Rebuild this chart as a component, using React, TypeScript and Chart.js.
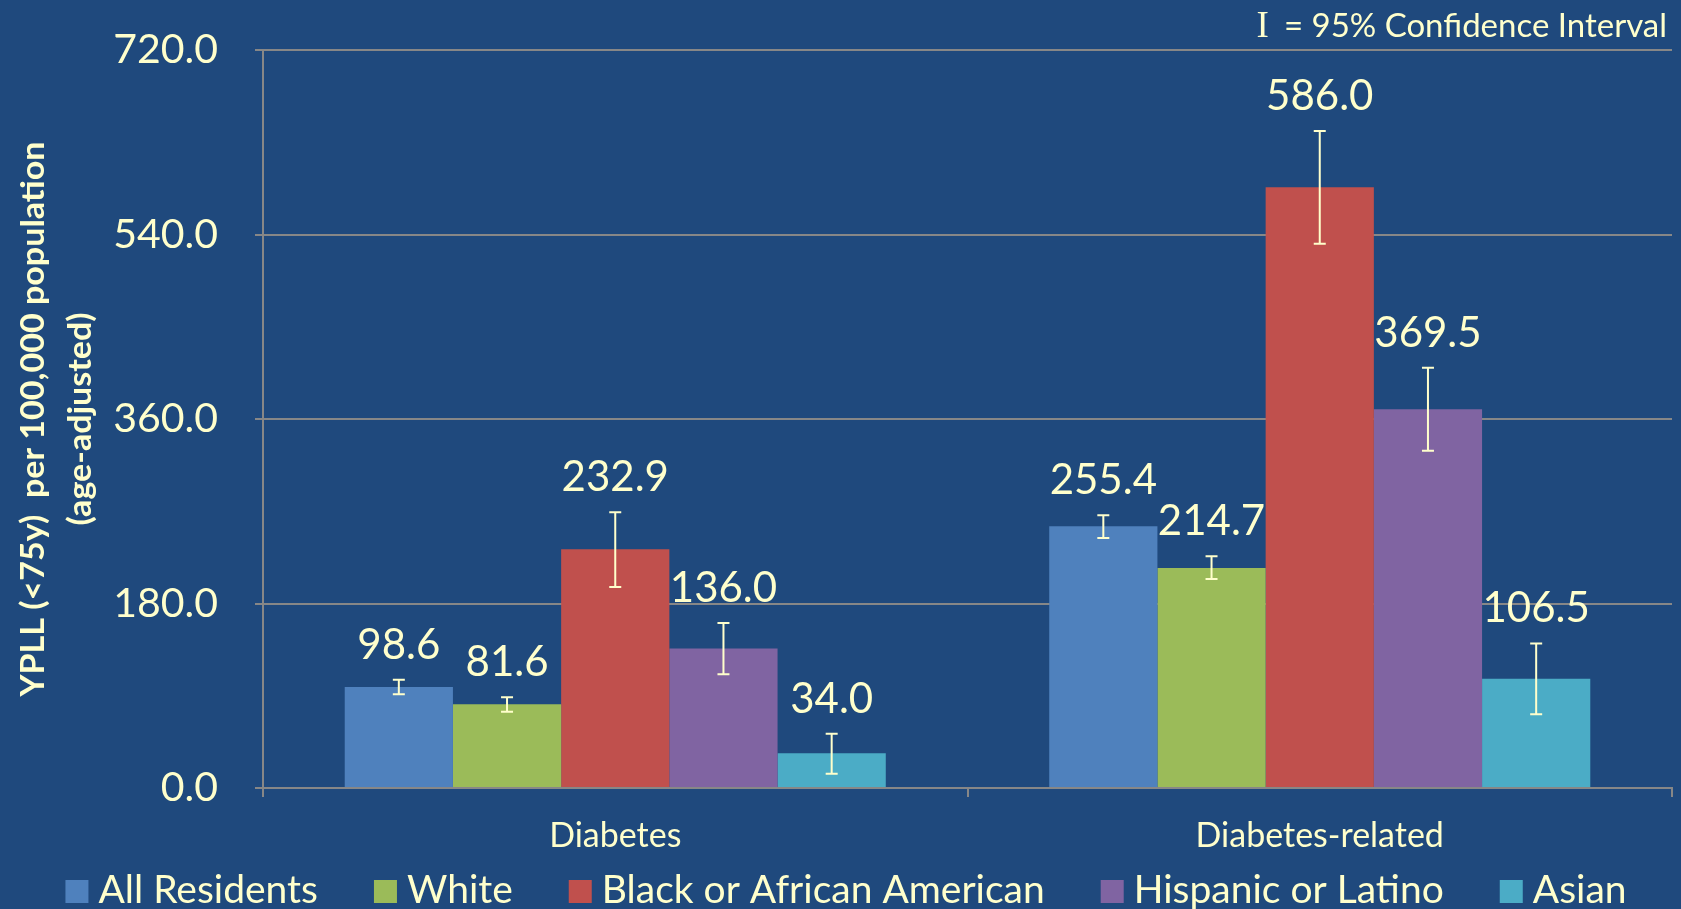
import React, { useEffect, useRef } from "react";
import { Chart, registerables } from "chart.js";

Chart.register(...registerables);

// ---------- data ----------
const categories = ["Diabetes", "Diabetes-related"];
const seriesNames = ["All Residents", "White", "Black or African American", "Hispanic or Latino", "Asian"];
const allResidents = [98.6, 255.4];
const white = [81.6, 214.7];
const black = [232.9, 586.0];
const hispanic = [136.0, 369.5];
const asian = [34.0, 106.5];
// 95% confidence intervals [low, high]
const allResidentsCI = [[91.5, 105.5], [244.0, 266.0]];
const whiteCI = [[74.5, 88.5], [204.0, 226.0]];
const blackCI = [[196.0, 269.0], [531.0, 641.0]];
const hispanicCI = [[111.0, 161.0], [329.0, 410.0]];
const asianCI = [[14.0, 53.0], [72.0, 141.0]];
const yTicks = [0, 180, 360, 540, 720];
const yTitleLines = ["YPLL (<75y)  per 100,000 population", "(age-adjusted)"];
const ciNote = "= 95% Confidence Interval";

// ---------- styles ----------
const BG = "#1F497D";
const TEXT = "#FFFFCC";
const GRID = "#878787";
const COLORS = ["#4F81BD", "#9BBB59", "#C0504D", "#8064A2", "#4BACC6"];
const FONT = "Lato";

const bgPlugin = {
  id: "bg",
  beforeDraw(chart: any) {
    const ctx = chart.ctx;
    ctx.save();
    ctx.fillStyle = BG;
    ctx.fillRect(0, 0, chart.width, chart.height);
    ctx.restore();
  },
};

const errorLabelPlugin = {
  id: "errorLabels",
  afterDatasetsDraw(chart: any) {
    const ctx = chart.ctx;
    const y = chart.scales.y;
    chart.data.datasets.forEach((ds: any, i: number) => {
      const meta = chart.getDatasetMeta(i);
      meta.data.forEach((bar: any, j: number) => {
        const [lo, hi] = ds.ci[j];
        const x = bar.x;
        const yl = y.getPixelForValue(lo);
        const yh = y.getPixelForValue(hi);
        ctx.save();
        ctx.strokeStyle = TEXT;
        ctx.lineWidth = 2;
        ctx.beginPath();
        ctx.moveTo(x, yl);
        ctx.lineTo(x, yh);
        ctx.moveTo(x - 6, yl);
        ctx.lineTo(x + 6, yl);
        ctx.moveTo(x - 6, yh);
        ctx.lineTo(x + 6, yh);
        ctx.stroke();
        ctx.fillStyle = TEXT;
        ctx.font = `42px ${FONT}`;
        ctx.textAlign = "center";
        ctx.textBaseline = "alphabetic";
        ctx.fillText(Number(ds.data[j]).toFixed(1), x, yh - 21);
        ctx.restore();
      });
    });
  },
};

const decorPlugin = {
  id: "decor",
  afterDraw(chart: any) {
    const ctx = chart.ctx;
    const area = chart.chartArea;
    // Y title (condensed bold)
    ctx.save();
    ctx.fillStyle = TEXT;
    ctx.font = `bold 32px ${FONT}`;
    const w1 = ctx.measureText(yTitleLines[0]).width;
    const sx = 555 / w1;
    const cy = (area.top + area.bottom) / 2;
    const xs = [34, 81];
    yTitleLines.forEach((line, k) => {
      ctx.save();
      ctx.translate(xs[k], cy);
      ctx.rotate(-Math.PI / 2);
      ctx.scale(sx, 1);
      ctx.textAlign = "center";
      ctx.textBaseline = "middle";
      ctx.fillText(line, 0, 0);
      ctx.restore();
    });
    ctx.restore();

    // CI note top right
    ctx.save();
    ctx.fillStyle = TEXT;
    ctx.font = `33px ${FONT}`;
    ctx.textBaseline = "alphabetic";
    ctx.textAlign = "right";
    const noteRight = 1667;
    const nw = ctx.measureText(ciNote).width;
    ctx.fillText(ciNote, noteRight, 37);
    ctx.font = `37px "Liberation Serif"`;
    ctx.fillText("I", noteRight - nw - 15, 37);
    ctx.restore();

    // Legend
    ctx.save();
    ctx.font = `39px ${FONT}`;
    ctx.textBaseline = "alphabetic";
    ctx.textAlign = "left";
    const box = 23;
    const gapText = 10;
    const gapItem = 56;
    const widths = seriesNames.map((n) => box + gapText + ctx.measureText(n).width);
    const total = widths.reduce((a, b) => a + b, 0) + gapItem * (seriesNames.length - 1);
    let x = 846 - total / 2;
    const baseline = 903;
    seriesNames.forEach((n, k) => {
      ctx.fillStyle = COLORS[k];
      ctx.fillRect(x, baseline - box, box, box);
      ctx.fillStyle = TEXT;
      ctx.fillText(n, x + box + gapText, baseline);
      x += widths[k] + gapItem;
    });
    ctx.restore();
  },
};

export default function App() {
  const ref = useRef<HTMLCanvasElement | null>(null);

  useEffect(() => {
    document.body.style.margin = "0";
    document.body.style.background = BG;
    const values = [allResidents, white, black, hispanic, asian];
    const cis = [allResidentsCI, whiteCI, blackCI, hispanicCI, asianCI];
    const chart = new Chart(ref.current as HTMLCanvasElement, {
      type: "bar",
      data: {
        labels: categories,
        datasets: seriesNames.map((name, i) => ({
          label: name,
          data: values[i],
          ci: cis[i],
          backgroundColor: COLORS[i],
          borderWidth: 0,
          categoryPercentage: 0.768,
          barPercentage: 1.0,
        })) as any,
      },
      options: {
        animation: false,
        responsive: false,
        maintainAspectRatio: false,
        layout: { padding: { top: 50, right: 9, left: 0, bottom: 0 } },
        plugins: { legend: { display: false }, tooltip: { enabled: false } },
        scales: {
          x: {
            grid: {
              display: true,
              drawOnChartArea: false,
              offset: true,
              color: GRID,
              lineWidth: 2,
              tickLength: 9,
            },
            border: { color: GRID, width: 2 },
            ticks: { color: TEXT, font: { family: FONT, size: 34 }, padding: 19 },
            afterFit(s: any) {
              s.height = 121;
            },
          },
          y: {
            min: 0,
            max: 720,
            afterBuildTicks(s: any) {
              s.ticks = yTicks.map((v) => ({ value: v }));
            },
            ticks: {
              color: TEXT,
              font: { family: FONT, size: 41 },
              padding: 37,
              callback: (v: any) => Number(v).toFixed(1),
            },
            grid: { color: GRID, lineWidth: 2, tickLength: 8 },
            border: { color: GRID, width: 2 },
            afterFit(s: any) {
              s.width = 263;
              s.paddingTop = 20;
              s.paddingBottom = 20;
            },
          },
        },
      } as any,
      plugins: [bgPlugin, errorLabelPlugin, decorPlugin],
    });
    return () => chart.destroy();
  }, []);

  return (
    <div style={{ width: 1681, height: 909 }}>
      <canvas ref={ref} width={1681} height={909} style={{ display: "block" }} />
    </div>
  );
}
